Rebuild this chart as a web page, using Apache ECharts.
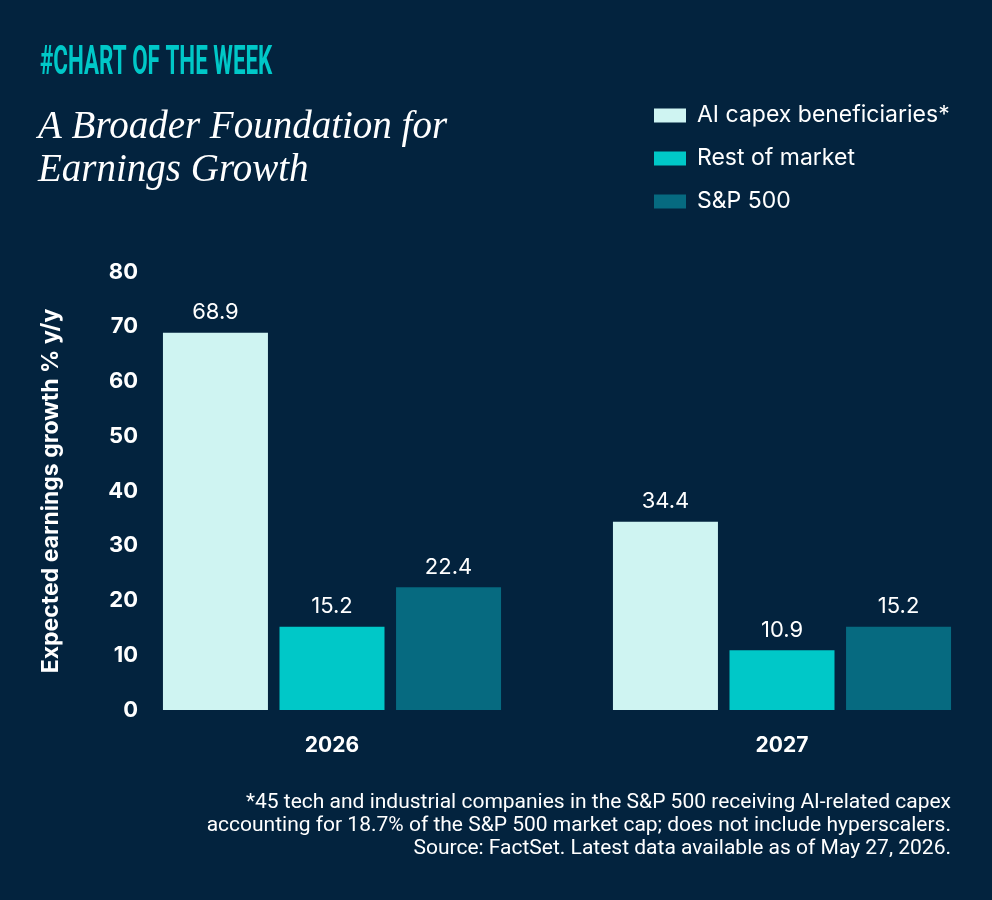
<!DOCTYPE html>
<html>
<head>
<meta charset="utf-8">
<script src="https://cdn.jsdelivr.net/npm/echarts@6/dist/echarts.min.js"></script>
<style>
  html, body { margin: 0; padding: 0; background: #03233e; }
  #chart { width: 992px; height: 900px; }
</style>
</head>
<body>
<div id="chart"></div>
<script>
// data
var years = ['2026', '2027']
var aiCapex = [68.9, 34.4]
var restOfMarket = [15.2, 10.9]
var sp500 = [22.4, 15.2]
var seriesNames = ['AI capex beneficiaries*', 'Rest of market', 'S&P 500']
var yTicks = { min: 0, max: 80, interval: 10 }

var footLines = [
  '*45 tech and industrial companies in the S&P 500 receiving AI-related capex',
  'accounting for 18.7% of the S&P 500 market cap; does not include hyperscalers.',
  'Source: FactSet. Latest data available as of May 27, 2026.'
]

var chart = echarts.init(document.getElementById('chart'))

var labelCfg = {
  show: true,
  position: 'top',
  distance: 9,
  color: '#ffffff',
  fontFamily: 'Inter',
  fontSize: 22,
  formatter: function (p) { return p.value.toFixed(1) }
}

// one text element per footnote line, right aligned
var footGraphics = footLines.map(function (line, i) {
  return {
    type: 'text', x: 951, y: 792 + i * 23,
    style: { text: line, fill: '#ffffff', font: '21px Roboto', align: 'right', verticalAlign: 'top' }
  }
})

var option = {
  backgroundColor: '#03233e',
  animation: false,
  color: ['#cff4f2', '#00c8c8', '#066a80'],
  // the second band runs past the right edge, so don't clamp the grid to the canvas
  grid: { left: 107, right: -15, top: 272, bottom: 190, outerBoundsMode: 'none', containLabel: false },
  legend: {
    orient: 'vertical',
    left: 649,
    top: 99,
    icon: 'rect',
    itemWidth: 32,
    itemHeight: 14,
    itemGap: 20,
    textStyle: { color: '#ffffff', fontFamily: 'Inter', fontSize: 23, padding: [0, 0, 0, 6] },
    data: seriesNames
  },
  xAxis: {
    type: 'category',
    data: years,
    axisLine: { show: false },
    axisTick: { show: false },
    axisLabel: { color: '#ffffff', fontFamily: 'Inter', fontWeight: 'bold', fontSize: 21, margin: 25 }
  },
  yAxis: {
    type: 'value',
    min: yTicks.min,
    max: yTicks.max,
    interval: yTicks.interval,
    name: 'Expected earnings growth % y/y',
    nameLocation: 'middle',
    nameGap: 44,
    nameTextStyle: { color: '#ffffff', fontFamily: 'Inter', fontWeight: 'bold', fontSize: 23 },
    splitLine: { show: false },
    axisLine: { show: false },
    axisTick: { show: false },
    axisLabel: { color: '#ffffff', fontFamily: 'Inter', fontWeight: 'bold', fontSize: 22, margin: -31 }
  },
  series: [
    { name: seriesNames[0], type: 'bar', barWidth: 105, barGap: '11%', data: aiCapex, label: labelCfg },
    { name: seriesNames[1], type: 'bar', barWidth: 105, barGap: '11%', data: restOfMarket, label: labelCfg },
    { name: seriesNames[2], type: 'bar', barWidth: 105, barGap: '11%', data: sp500, label: labelCfg }
  ],
  graphic: [
    {
      type: 'text', left: 40, top: 44, scaleX: 0.56, originX: 0,
      style: { text: '#CHART OF THE WEEK', fill: '#00c8c8', font: 'bold 40px Roboto' }
    },
    {
      type: 'text', left: 38, top: 106,
      style: { text: 'A Broader Foundation for\nEarnings Growth', fill: '#ffffff', font: 'italic 39px "Liberation Serif"', lineHeight: 43 }
    }
  ].concat(footGraphics)
}

chart.setOption(option)
</script>
</body>
</html>
